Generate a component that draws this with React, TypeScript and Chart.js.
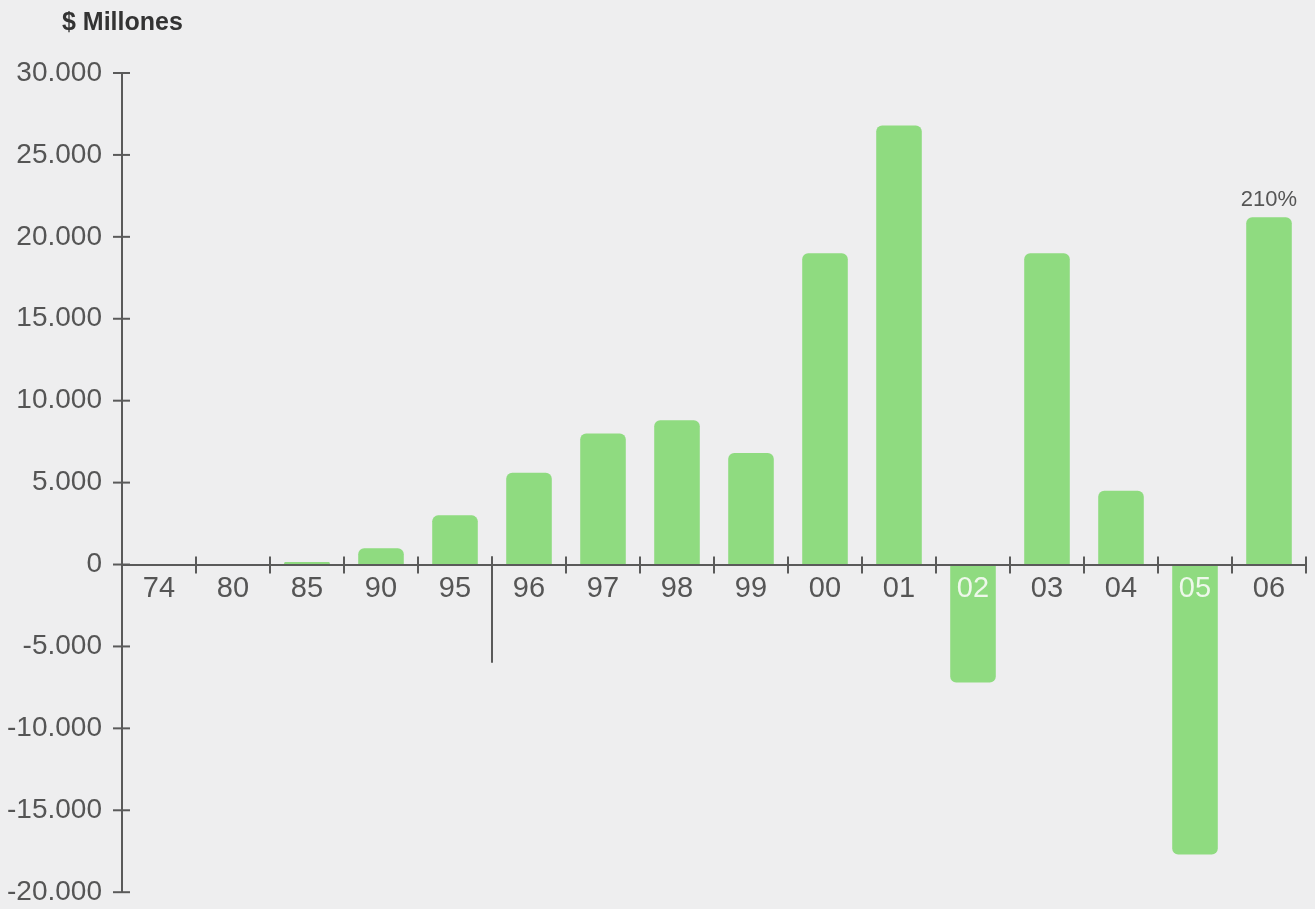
import React, { useEffect, useRef } from 'react';
import { Chart, registerables } from 'chart.js';

Chart.register(...registerables);

const years = ['74', '80', '85', '90', '95', '96', '97', '98', '99', '00', '01', '02', '03', '04', '05', '06'];
const values = [0, 0, 150, 1000, 3000, 5600, 8000, 8800, 6800, 19000, 26800, -7200, 19000, 4500, -17700, 21200];
const yTicks = [30000, 25000, 20000, 15000, 10000, 5000, 0, -5000, -10000, -15000, -20000];
const annotationText = '210%';
const annotationIndex = 15;
const separatorAfterIndex = 4;
const separatorBottomValue = -6000;
const unitTitle = '$ Millones';

const BAR_COLOR = '#8fdb80';
const AXIS_COLOR = '#5a5a5a';
const TEXT_COLOR = '#555555';
const BG = '#eeeeef';
const FONT = "'Liberation Sans', Arial, Helvetica, sans-serif";

const fmt = (v: number) => {
  const s = String(Math.abs(v)).replace(/\B(?=(\d{3})+(?!\d))/g, '.');
  return (v < 0 ? '-' : '') + s;
};

const decorPlugin = {
  id: 'decor',
  afterDraw(chart: any) {
    const { ctx, chartArea } = chart;
    const x = chart.scales.x;
    const y = chart.scales.y;
    const y0 = y.getPixelForValue(0);
    const axisX = chartArea.left;
    const spacing = x.getPixelForValue(1) - x.getPixelForValue(0);
    ctx.save();
    ctx.strokeStyle = AXIS_COLOR;
    ctx.lineWidth = 2;
    // x boundary tick marks
    for (let i = 1; i <= years.length; i++) {
      const px = x.getPixelForValue(i - 1) + spacing / 2;
      ctx.beginPath();
      ctx.moveTo(px, y0 - 8);
      ctx.lineTo(px, y0 + 9);
      ctx.stroke();
    }
    // y tick marks
    for (const t of yTicks) {
      const py = y.getPixelForValue(t);
      ctx.beginPath();
      ctx.moveTo(axisX - 9, py);
      ctx.lineTo(axisX + 8, py);
      ctx.stroke();
    }
    // separator
    const sx = x.getPixelForValue(separatorAfterIndex) + spacing / 2;
    ctx.beginPath();
    ctx.moveTo(sx, y0 - 8);
    ctx.lineTo(sx, y.getPixelForValue(separatorBottomValue));
    ctx.stroke();
    // annotation
    ctx.fillStyle = TEXT_COLOR;
    ctx.font = `22px ${FONT}`;
    ctx.textAlign = 'center';
    ctx.textBaseline = 'bottom';
    ctx.fillText(annotationText, x.getPixelForValue(annotationIndex), y.getPixelForValue(values[annotationIndex]) - 6);
    // unit title
    ctx.fillStyle = '#333333';
    ctx.font = `bold 25px ${FONT}`;
    ctx.textAlign = 'left';
    ctx.textBaseline = 'middle';
    ctx.fillText(unitTitle, axisX - 60, 23);
    ctx.restore();
  },
};

export default function App() {
  const ref = useRef<HTMLCanvasElement | null>(null);
  useEffect(() => {
    document.body.style.margin = '0';
    document.body.style.background = BG;
    if (!ref.current) return;
    const chart = new Chart(ref.current, {
      type: 'bar',
      data: {
        labels: years,
        datasets: [
          {
            data: values,
            backgroundColor: BAR_COLOR,
            borderRadius: 6,
            categoryPercentage: 0.8,
            barPercentage: 0.77,
          },
        ],
      },
      options: {
        responsive: false,
        animation: false,
        layout: { padding: { top: 73, right: 9, bottom: 16, left: 0 } },
        plugins: { legend: { display: false }, tooltip: { enabled: false }, title: { display: false } },
        scales: {
          x: {
            type: 'category',
            position: { y: 0 } as any,
            grid: { display: false, drawTicks: false },
            border: { display: true, color: AXIS_COLOR, width: 2, z: 1 },
            ticks: {
              z: 1,
              padding: 7,
              autoSkip: false,
              maxRotation: 0,
              font: { family: FONT, size: 29 },
              color: (c: any) => (values[c.index] < 0 ? '#eef8ea' : TEXT_COLOR),
            },
          },
          y: {
            min: -20000,
            max: 30000,
            afterFit: (s: any) => {
              s.width = 122;
            },
            afterBuildTicks: (s: any) => {
              s.ticks = yTicks.map((v) => ({ value: v }));
            },
            grid: { display: false, drawTicks: true, tickLength: 20 },
            border: { display: true, color: AXIS_COLOR, width: 2 },
            ticks: {
              padding: 0,
              font: { family: FONT, size: 28 },
              color: TEXT_COLOR,
              callback: (v: any) => fmt(Number(v)),
            },
          },
        },
      },
      plugins: [decorPlugin],
    });
    return () => chart.destroy();
  }, []);
  return (
    <div style={{ width: 1315, height: 909, background: BG }}>
      <canvas ref={ref} width={1315} height={909} />
    </div>
  );
}
